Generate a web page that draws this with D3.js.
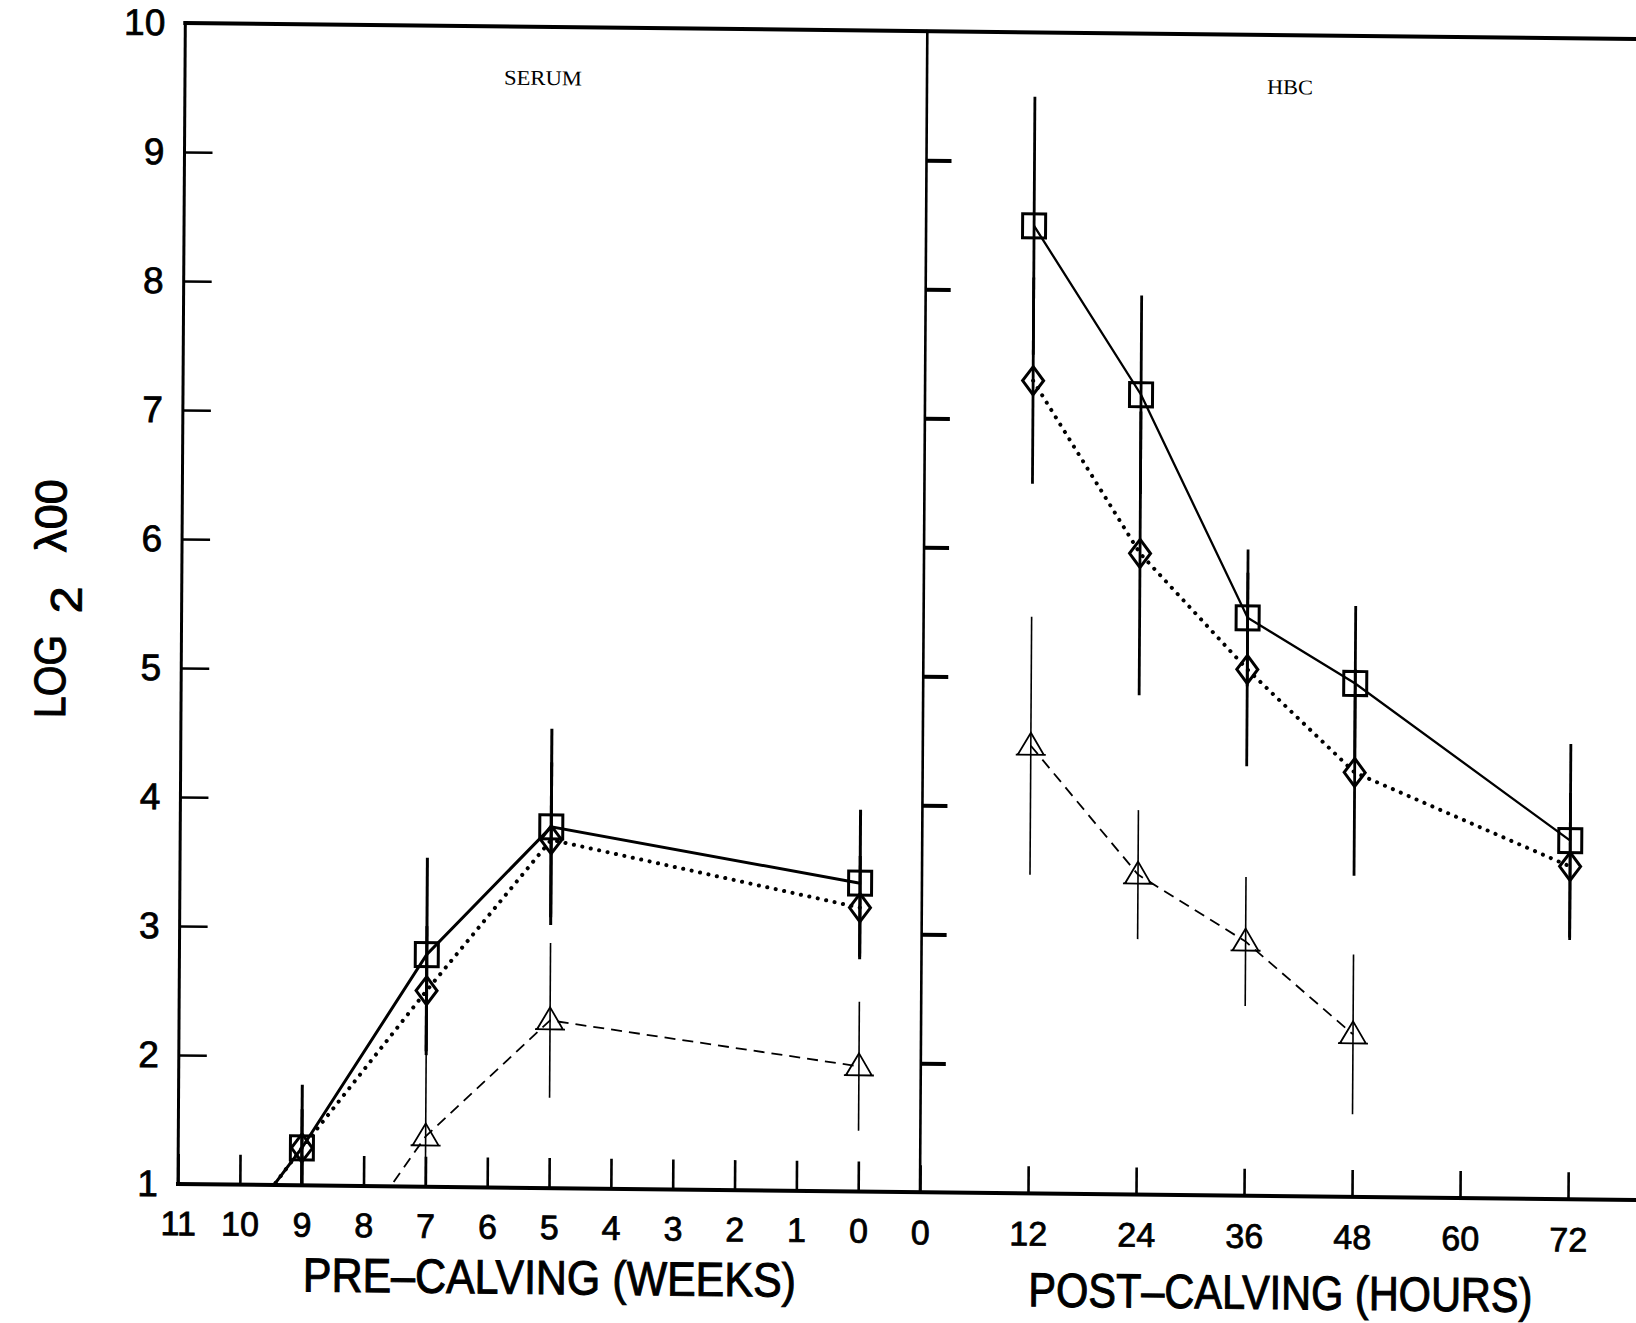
<!DOCTYPE html>
<html lang="en">
<head>
<meta charset="utf-8">
<title>Serum and HBC titres, pre- and post-calving</title>
<style>
  body { margin: 0; background: #fff; }
  svg { display: block; background: #fff; }
  .tick text { fill: #000; }
</style>
</head>
<body>
<div id="viz"></div>
<script src="https://unpkg.com/d3@7/dist/d3.min.js"></script>
<script>
// left panel: serum, weeks before calving (values below 1 are off the scale)
const weeks = [11, 9, 7, 5, 0]
const serumSquare = [0.0, 1.29, 2.80, 3.80, 3.39]
const serumSquareErr = [0, 0.49, 0.75, 0.76, 0.57]
const serumDiamond = [0.0, 1.29, 2.52, 3.70, 3.20]
const serumDiamondErr = [0, 0.3, 0.5, 0.6, 0.4]
const weeksTri = [9, 7, 5, 0]
const serumTriangle = [0.0, 1.39, 2.30, 1.97]
const serumTriangleErr = [0, 0.67, 0.6, 0.5]

// right panel: HBC, hours after calving
const hours = [12, 24, 36, 48, 72]
const hbcSquare = [8.50, 7.20, 5.48, 4.98, 3.78]
const hbcSquareErr = [1.0, 0.77, 0.53, 0.6, 0.75]
const hbcDiamond = [7.30, 5.97, 5.08, 4.29, 3.58]
const hbcDiamondErr = [0.8, 1.1, 0.75, 0.8, 0.57]
const hoursTri = [12, 24, 36, 48]
const hbcTriangle = [4.47, 3.48, 2.97, 2.26]
const hbcTriangleErr = [1.0, 0.5, 0.5, 0.62]

const yTicks = [1, 2, 3, 4, 5, 6, 7, 8, 9, 10]
const weekTicks = [11, 10, 9, 8, 7, 6, 5, 4, 3, 2, 1, 0]
const hourTicks = [0, 12, 24, 36, 48, 60, 72]

const width = 1636
const height = 1323

const y = d3.scaleLinear().domain([1, 10]).range([1184, 23])
const xw = d3.scaleLinear().domain([11, -1]).range([178, 920])
const xh = d3.scaleLinear().domain([0, 84]).range([920, 1676])

const svg = d3.select('#viz').append('svg').attr('width', width).attr('height', height)

// the scanned page sits slightly askew
const X0 = 178, Y0 = 1184
const g = svg.append('g')
  .attr('transform', `translate(${X0},${Y0}) matrix(1,0.011,-0.0063,1,0,0) translate(${-X0},${-Y0})`)

g.append('clipPath').attr('id', 'plot')
  .append('rect').attr('x', xw(11)).attr('y', y(10)).attr('width', 1600).attr('height', y(1) - y(10))

const font = '"Liberation Sans", Arial, sans-serif'

// axes
const leftAxis = g.append('g').attr('transform', `translate(${xw(11)},0)`)
  .call(d3.axisLeft(y).tickValues(yTicks).tickSize(-28).tickPadding(20))
const divAxis = g.append('g').attr('transform', `translate(${xw(-1)},0)`)
  .call(d3.axisRight(y).tickValues([2, 3, 4, 5, 6, 7, 8, 9]).tickSize(25).tickFormat(''))
const weekAxis = g.append('g').attr('transform', `translate(0,${y(1)})`)
  .call(d3.axisBottom(xw).tickValues(weekTicks).tickSize(-30).tickPadding(27))
const hourAxis = g.append('g').attr('transform', `translate(0,${y(1)})`)
  .call(d3.axisBottom(xh).tickValues(hourTicks).tickSize(-27).tickPadding(28))

g.selectAll('.domain').remove()
g.selectAll('.tick line').attr('stroke', '#000').attr('stroke-width', 2.6)
divAxis.selectAll('.tick line').attr('stroke-width', 4)
g.selectAll('.tick text').attr('font-family', font).attr('font-size', 34)
  .attr('stroke', '#000').attr('stroke-width', 0.8)
leftAxis.selectAll('.tick text').attr('font-size', 37)

// frame
const frame = [
  [xw(11), y(10), xw(11), y(1), 3],
  [xw(11), y(10), 1700, y(10), 4],
  [xw(11), y(1), 1700, y(1), 4],
  [xw(-1), y(10), xw(-1), y(1), 2.6]
]
g.selectAll('line.frame').data(frame).enter().append('line')
  .attr('class', 'frame')
  .attr('x1', d => d[0]).attr('y1', d => d[1]).attr('x2', d => d[2]).attr('y2', d => d[3])
  .attr('stroke', '#000').attr('stroke-width', d => d[4]).attr('stroke-linecap', 'square')

// series
const pack = (xs, vs, es) => xs.map((x, i) => ({ x, v: vs[i], e: es[i] }))
const series = [
  { xs: xw, pts: pack(weeks, serumSquare, serumSquareErr), shape: 'square', lw: 3, dash: null, bar: 3 },
  { xs: xw, pts: pack(weeks, serumDiamond, serumDiamondErr), shape: 'diamond', lw: 4, dash: '0.1 8.5', bar: 3 },
  { xs: xw, pts: pack(weeksTri, serumTriangle, serumTriangleErr), shape: 'triangle', lw: 1.8, dash: '11 7', bar: 1.6 },
  { xs: xh, pts: pack(hours, hbcSquare, hbcSquareErr), shape: 'square', lw: 2.3, dash: null, bar: 2.8 },
  { xs: xh, pts: pack(hours, hbcDiamond, hbcDiamondErr), shape: 'diamond', lw: 4, dash: '0.1 8.5', bar: 2.8 },
  { xs: xh, pts: pack(hoursTri, hbcTriangle, hbcTriangleErr), shape: 'triangle', lw: 1.8, dash: '11 7', bar: 1.6 }
]

const shapes = {
  square: 'M-11.5,-12 H11.5 V12 H-11.5 Z',
  diamond: 'M0,-14 L10.5,0 L0,14 L-10.5,0 Z',
  triangle: 'M0,-13 L13,9 L-13,9 Z M-15,9 H15'
}

const plot = g.append('g').attr('clip-path', 'url(#plot)')

series.forEach(s => {
  plot.append('g').selectAll('line').data(s.pts.filter(d => d.e > 0)).enter().append('line')
    .attr('x1', d => s.xs(d.x)).attr('x2', d => s.xs(d.x))
    .attr('y1', d => y(d.v + d.e)).attr('y2', d => y(d.v - d.e))
    .attr('stroke', '#000').attr('stroke-width', s.bar)
})

series.forEach(s => {
  const line = d3.line().x(d => s.xs(d.x)).y(d => y(d.v))
  plot.append('path').datum(s.pts)
    .attr('d', line)
    .attr('fill', 'none').attr('stroke', '#000')
    .attr('stroke-width', s.lw)
    .attr('stroke-dasharray', s.dash)
    .attr('stroke-linecap', s.dash && s.dash.startsWith('0') ? 'round' : 'butt')
})

series.forEach(s => {
  plot.append('g').selectAll('path').data(s.pts).enter().append('path')
    .attr('transform', d => `translate(${s.xs(d.x)},${y(d.v)})`)
    .attr('d', shapes[s.shape])
    .attr('fill', 'none').attr('stroke', '#000')
    .attr('stroke-width', s.shape === 'triangle' ? 1.8 : 3)
})

// panel labels
const serif = '"Liberation Serif", "DejaVu Serif", serif'
g.append('text').attr('x', 536).attr('y', 81).attr('text-anchor', 'middle')
  .attr('font-family', serif).attr('font-size', 21)
  .attr('textLength', 78).attr('lengthAdjust', 'spacingAndGlyphs').text('SERUM')
g.append('text').attr('x', 1283).attr('y', 82).attr('text-anchor', 'middle')
  .attr('font-family', serif).attr('font-size', 21)
  .attr('textLength', 46).attr('lengthAdjust', 'spacingAndGlyphs').text('HBC')

// axis titles
g.append('text').attr('x', 550).attr('y', 1290).attr('text-anchor', 'middle')
  .attr('font-family', font).attr('font-size', 48)
  .attr('stroke', '#000').attr('stroke-width', 1)
  .attr('textLength', 493).attr('lengthAdjust', 'spacingAndGlyphs').text('PRE–CALVING (WEEKS)')
g.append('text').attr('x', 1281).attr('y', 1297).attr('text-anchor', 'middle')
  .attr('font-family', font).attr('font-size', 48)
  .attr('stroke', '#000').attr('stroke-width', 1)
  .attr('textLength', 504).attr('lengthAdjust', 'spacingAndGlyphs').text('POST–CALVING (HOURS)')

const ylab = [
  { t: 'LOG', x: 62, y: 678, len: 83 },
  { t: '2', x: 78, y: 601, len: 27 },
  { t: 'λ00', x: 62, y: 517, len: 73 }
]
g.selectAll('text.ylab').data(ylab).enter().append('text')
  .attr('class', 'ylab')
  .attr('transform', d => `translate(${d.x},${d.y}) rotate(-90)`)
  .attr('text-anchor', 'middle')
  .attr('font-family', font).attr('font-size', 44)
  .attr('stroke', '#000').attr('stroke-width', 1)
  .attr('textLength', d => d.len).attr('lengthAdjust', 'spacingAndGlyphs')
  .text(d => d.t)
</script>
</body>
</html>
